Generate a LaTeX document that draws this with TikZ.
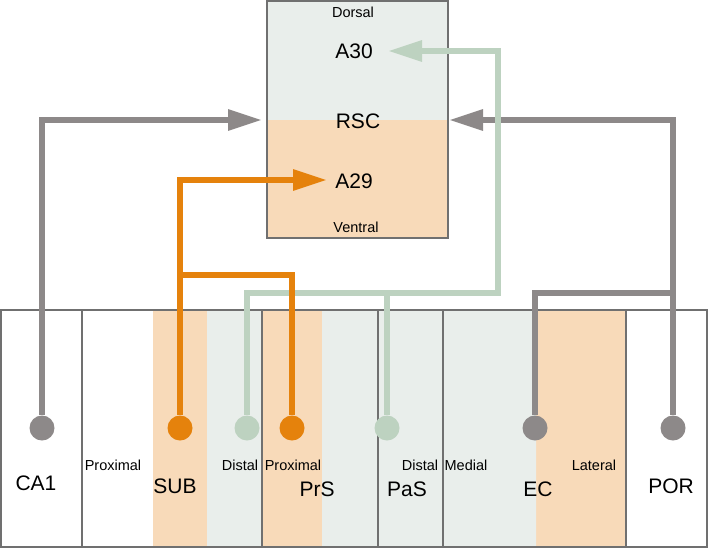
\documentclass[tikz,border=0pt]{standalone}
\usepackage{fontspec}
\setmainfont{Liberation Sans}
\usetikzlibrary{arrows.meta,positioning}

\definecolor{linegray}{RGB}{141,137,137}
\definecolor{rscorange}{RGB}{229,130,12}
\definecolor{rscgreen}{RGB}{189,210,192}
\definecolor{peach}{RGB}{248,218,185}
\definecolor{mist}{RGB}{233,238,235}
\definecolor{edgegray}{RGB}{112,112,112}

\tikzset{
 dot/.style={circle,fill=#1,minimum size=25pt,inner sep=0pt},
 wire/.style={line width=6pt,draw=#1},
 tip/.style={-{Triangle[length=34pt,width=20pt]}},
 edge/.style={edgegray,line width=2pt},
 big/.style={font=\fontsize{21}{21}\selectfont},
 small/.style={font=\fontsize{14.5}{14.5}\selectfont}
}

\begin{document}
\begin{tikzpicture}[x=1pt,y=-1pt]
\useasboundingbox (0,0) rectangle (709,549);
% bottom strip
\fill[peach] (153,310) rectangle (207,547) (262,310) rectangle (322,547)
      (536,310) rectangle (626,547);
\fill[mist] (207,310) rectangle (262,547) (322,310) rectangle (536,547);
\draw[edge] (1,310) rectangle (707,547);
\foreach \x in {82,262,378,443,626}
  \draw[edge] (\x,310) -- (\x,547);
% RSC box
\fill[mist] (267,1) rectangle (448,120);
\fill[peach] (267,120) rectangle (448,238);
\draw[edge] (267,1) rectangle (448,238);

\node[small] (dorsal) at (353,12) {Dorsal};
\node[big] (a30) at (354,51) {A30};
\node[big] (rsc) at (358,121) {RSC};
\node[big] (a29) at (354,181) {A29};
\node[small] (ventral) at (356,227) {Ventral};

\node[big] (ca1) at (36,483) {CA1};
\node[small] (subprox) at (113,465) {Proximal};
\node[big] (sub) at (175,486) {SUB};
\node[small] (subdist) at (240,465) {Distal};
\node[small] (prsprox) at (293,465) {Proximal};
\node[big] (prs) at (317,489) {PrS};
\node[big] (pas) at (407,489) {PaS};
\node[small] (prsdist) at (420,465) {Distal};
\node[small] (ecmed) at (466,465) {Medial};
\node[big] (ec) at (538,489) {EC};
\node[small] (eclat) at (594,465) {Lateral};
\node[big] (por) at (671,486) {POR};

% cells
\node[dot=linegray] (ca1dot) at (42,428) {};
\node[dot=rscorange] (subdot) at (180,428) {};
\node[dot=rscgreen] (distdot) at (247,428) {};
\node[dot=rscorange] (prsdot) at (292,428) {};
\node[dot=rscgreen] (pasdot) at (387,428) {};
\node[dot=linegray] (ecdot) at (535,428) {};
\node[dot=linegray] (pordot) at (673,428) {};

\coordinate (rscleft) at (262,120);
\coordinate (rscright) at (449,120);
\coordinate (a29in) at (327,180);
\coordinate (a30in) at (388,51);
\coordinate (orjoin) at (180,275);
\coordinate (grturn) at (498,293);
\coordinate (grjoin) at (387,293);
\coordinate (gyjoin) at (673,293);

% projections
\draw[wire=linegray,tip] (ca1dot) |- (rscleft);
\draw[wire=linegray,tip] (pordot) |- (rscright);
\draw[wire=linegray] (ecdot) |- (gyjoin);
\draw[wire=rscgreen,tip] (distdot) |- (grturn) |- (a30in);
\draw[wire=rscgreen] (pasdot) -- (grjoin);
\draw[wire=rscorange,tip] (subdot) |- (a29in);
\draw[wire=rscorange] (prsdot) |- (orjoin);
\end{tikzpicture}
\end{document}
